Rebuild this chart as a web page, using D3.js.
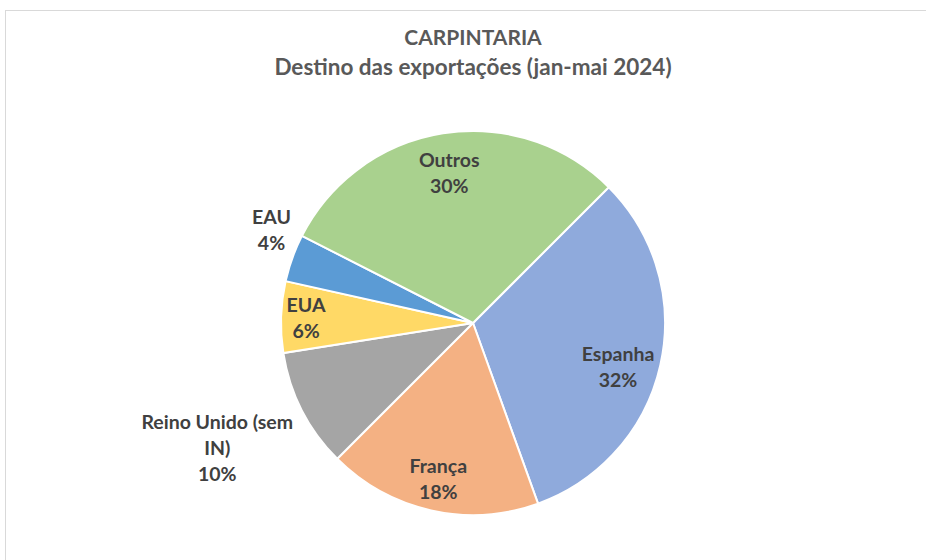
<!DOCTYPE html>
<html>
<head>
<meta charset="utf-8">
<script src="https://cdn.jsdelivr.net/npm/d3@7"></script>
<style>
    body { margin: 0; background: #fff; }
    text { font-family: Lato, "Open Sans", sans-serif; font-weight: bold; }
</style>
</head>
<body>
<svg id="chart" width="926" height="560"></svg>
<script>
const categories = ["Espanha", "França", "Reino Unido (sem IN)", "EUA", "EAU", "Outros"];
const shares = [32, 18, 10, 6, 4, 30];
const colours = ["#8faadc", "#f4b183", "#a5a5a5", "#ffd966", "#5b9bd5", "#a9d18e"];
const outsideLabels = ["Reino Unido (sem IN)", "EAU"];
const titleLines = ["CARPINTARIA", "Destino das exportações (jan-mai 2024)"];

const largeur = 926,
    hauteur = 560;
const cx = 473,
    cy = 323,
    radius = 192;

// how far in the inside labels sit (share of radius), plus small pixel nudges
const labelRadius = { "EUA": 0.87, "França": 0.83 };
const labelNudge = { "Espanha": [-3, 11], "EAU": [8, -5] };

const svgSpace = d3.select("#chart");

// chart area border (right and bottom run off the picture)
svgSpace.append("rect")
    .attr("x", 5.5)
    .attr("y", 10.5)
    .attr("width", 940)
    .attr("height", 580)
    .attr("fill", "white")
    .attr("stroke", "#d9d9d9");

svgSpace.append("g")
    .selectAll("text")
    .data(titleLines)
    .enter()
    .append("text")
    .text((d) => d)
    .attr("x", 473)
    .attr("y", (d, i) => 45 + i * 30)
    .attr("fill", "#595959")
    .style("font-size", (d, i) => i === 0 ? "21px" : "22.5px")
    .style("text-anchor", "middle");

const data = categories.map((c, i) => ({ name: c, value: shares[i], colour: colours[i] }));

const pie = d3.pie()
    .value((d) => d.value)
    .sort(null)
    .startAngle(Math.PI / 4)
    .endAngle(Math.PI / 4 + 2 * Math.PI);

const arc = d3.arc().innerRadius(0).outerRadius(radius);
const arcs = pie(data);

const g = svgSpace.append("g").attr("transform", `translate(${cx},${cy})`);

g.selectAll("path")
    .data(arcs)
    .enter()
    .append("path")
    .attr("d", arc)
    .attr("fill", (d) => d.data.colour)
    .attr("stroke", "white")
    .attr("stroke-width", 2);

function labelLines(d) {
    if (d.data.name === "Reino Unido (sem IN)") return ["Reino Unido (sem", "IN)", d.data.value + "%"];
    return [d.data.name, d.data.value + "%"];
}

const lineH = 26,
    capH = 14,
    fontSize = "19.5px";

arcs.forEach((d) => {
    const lines = labelLines(d);
    const mid = (d.startAngle + d.endAngle) / 2;
    const sx = Math.sin(mid),
        sy = -Math.cos(mid);
    let x, y;
    const lbl = g.append("g");
    const txt = lbl.selectAll("text")
        .data(lines)
        .enter()
        .append("text")
        .text((t) => t)
        .attr("fill", "#404040")
        .style("font-size", fontSize)
        .style("text-anchor", "middle")
        .attr("x", 0)
        .attr("y", (t, i) => i * lineH);
    const w = d3.max(txt.nodes(), (n) => n.getComputedTextLength());
    // visual block: cap top of first line to baseline of last
    const h = (lines.length - 1) * lineH + capH;
    if (outsideLabels.includes(d.data.name)) {
        const r = radius + 10;
        x = r * sx + Math.sign(sx) * w / 2;
        y = r * sy + Math.sign(sy) * h / 2;
    } else {
        const r = radius * (labelRadius[d.data.name] || 0.79);
        x = r * sx;
        y = r * sy;
    }
    const nudge = labelNudge[d.data.name] || [0, 0];
    lbl.attr("transform", `translate(${x + nudge[0]},${y - h / 2 + capH + nudge[1]})`);
});
</script>
</body>
</html>
